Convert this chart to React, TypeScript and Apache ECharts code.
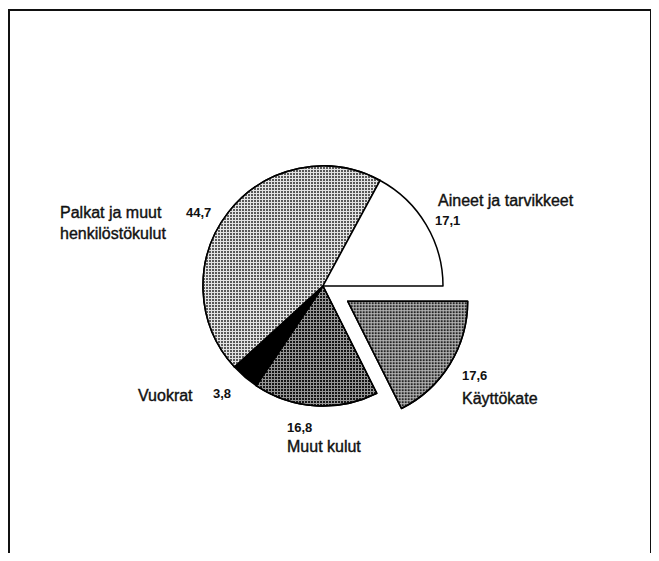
import React, { useEffect, useRef } from 'react';
import * as echarts from 'echarts';

// Data (clockwise from 3 o'clock)
const categories = ['Käyttökate', 'Muut kulut', 'Vuokrat', 'Palkat ja muut henkilöstökulut', 'Aineet ja tarvikkeet'];
const values = [17.6, 16.8, 3.8, 44.7, 17.1];
const nameLines = [['Käyttökate'], ['Muut kulut'], ['Vuokrat'], ['Palkat ja muut', 'henkilöstökulut'], ['Aineet ja tarvikkeet']];
const explodedIndex = 0;

// Styles
const fills = [
  { base: '#bcbcbc', dot: '#262626' },
  { base: '#969696', dot: '#161616' },
  { base: '#000000', dot: null },
  { base: '#e4e4e4', dot: '#5a5a5a' },
  { base: '#ffffff', dot: null },
];

// Label layout (chart coords)
const labelLayout = [
  { name: [454, 390], value: [454, 367] },
  { name: [279, 438], value: [279, 419] },
  { name: [130, 387], value: [205, 385] },
  { name: [52, 204], value: [178, 204] },
  { name: [430, 192], value: [427, 212] },
];
const lineGap = 21;

const fmt = (v: number) => v.toFixed(1).replace('.', ',');

export default function App() {
  const ref = useRef<HTMLDivElement>(null);
  useEffect(() => {
    if (!ref.current) return;
    const chart = echarts.init(ref.current, undefined, { renderer: 'svg' });

    const data = categories.map((c, i) => {
      const f = fills[i];
      const itemStyle: any = {
        color: f.base,
        borderColor: '#000',
        borderWidth: 1.5,
      };
      if (f.dot) {
        itemStyle.decal = {
          symbol: 'rect',
          symbolSize: 1,
          dashArrayX: [2, 1],
          dashArrayY: [2, 1],
          rotation: 0,
          color: f.dot,
        };
      }
      return {
        name: c,
        value: values[i],
        selected: i === explodedIndex,
        itemStyle,
        select: { itemStyle },
      };
    });

    const graphics: any[] = [
      {
        type: 'rect',
        shape: { x: 1, y: 2, width: 642, height: 600 },
        style: { fill: 'none', stroke: '#111', lineWidth: 2 },
        silent: true,
      },
    ];
    categories.forEach((c, i) => {
      const L = labelLayout[i];
      nameLines[i].forEach((line, k) => {
        graphics.push({
          type: 'text',
          x: L.name[0],
          y: L.name[1] + k * lineGap,
          style: {
            text: line,
            fontFamily: 'Liberation Sans, Arial, sans-serif',
            fontSize: 16,
            fill: '#111',
            stroke: '#111',
            lineWidth: 0.4,
            verticalAlign: 'middle',
            align: 'left',
          },
          silent: true,
        });
      });
      graphics.push({
        type: 'text',
        x: L.value[0],
        y: L.value[1],
        style: {
          text: fmt(values[i]),
          fontFamily: 'Liberation Sans, Arial, sans-serif',
          fontSize: 13,
          fontWeight: 'bold',
          fill: '#111',
          verticalAlign: 'middle',
          align: 'left',
        },
        silent: true,
      });
    });

    chart.setOption({
      animation: false,
      backgroundColor: '#fff',
      series: [
        {
          type: 'pie',
          center: [315, 278],
          radius: [0, 120],
          startAngle: 0,
          clockwise: true,
          selectedMode: 'single',
          selectedOffset: 29,
          avoidLabelOverlap: false,
          label: { show: false },
          labelLine: { show: false },
          emphasis: { disabled: true },
          data,
        },
      ],
      graphic: graphics,
    });
    return () => chart.dispose();
  }, []);
  return <div ref={ref} style={{ width: 643, height: 545 }} />;
}
